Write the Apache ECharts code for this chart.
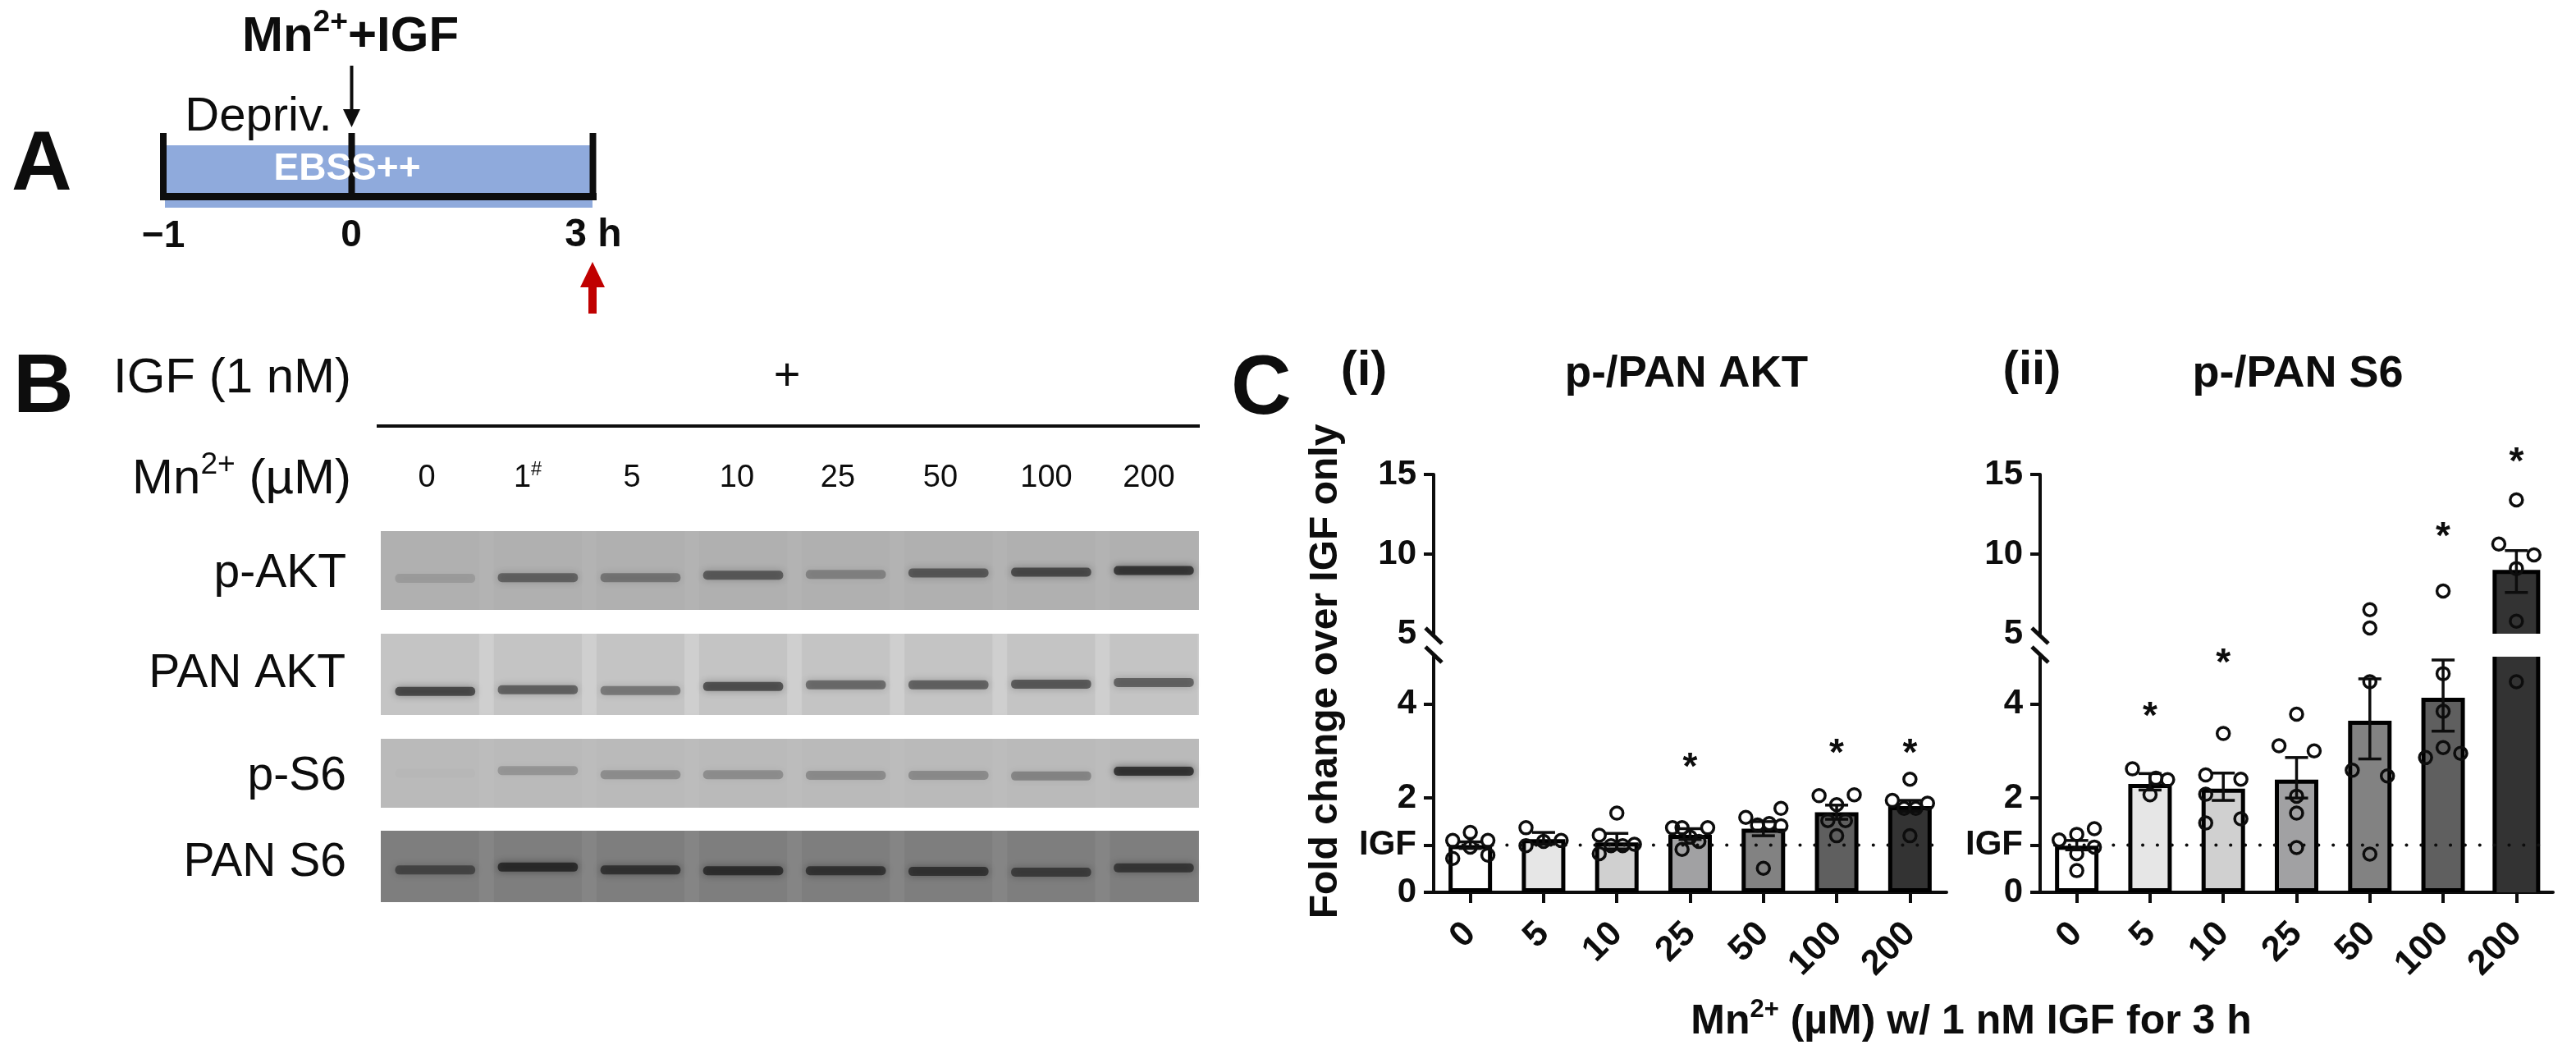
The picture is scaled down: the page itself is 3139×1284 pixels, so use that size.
<!DOCTYPE html>
<html>
<head>
<meta charset="utf-8">
<title>Mn2+ with IGF</title>
<script src="https://cdn.jsdelivr.net/npm/echarts@6/dist/echarts.min.js"></script>
<style>
  html, body { margin: 0; padding: 0; background: #fff; }
  #chart { width: 3139px; height: 1284px; }
</style>
</head>
<body>
<div id="chart"></div>
<script>
// panel C
const mnDoses = ['0', '5', '10', '25', '50', '100', '200'];
const yLowTicks = [0, 1, 2, 4];
const yHighLabels = [5, 10, 15];
const yHighTicks = [10, 15];
const igfLevel = 1;
const breakValue = 5;

const aktMeans = [1.0, 1.13, 1.06, 1.22, 1.35, 1.70, 1.83];
const aktErrLow = [0.93, 1.02, 0.92, 1.12, 1.20, 1.55, 1.72];
const aktErrHigh = [1.07, 1.27, 1.25, 1.35, 1.50, 1.85, 1.95];
// [jitter in category units, value]
const aktPoints = [
  [[-0.24, 1.10], [0, 1.27], [0.24, 1.10], [-0.24, 0.72], [0.24, 0.79], [0, 0.96]],
  [[-0.24, 1.37], [-0.24, 0.99], [0.24, 1.10], [0, 1.08]],
  [[0, 1.68], [-0.24, 1.21], [-0.24, 0.82], [0.24, 1.02], [-0.08, 0.99], [0.08, 0.99]],
  [[-0.24, 1.37], [-0.11, 1.37], [0.24, 1.37], [-0.11, 0.91], [0.12, 1.08], [0, 1.17]],
  [[-0.24, 1.59], [0.24, 1.78], [-0.08, 1.43], [0.08, 1.46], [0.24, 1.41], [0, 0.51]],
  [[-0.24, 2.05], [0.24, 2.07], [0, 1.86], [-0.12, 1.52], [0.12, 1.52], [0, 1.20]],
  [[-0.24, 1.95], [0, 2.40], [0.24, 1.89], [-0.08, 1.78], [0.08, 1.78], [0, 1.20]]
];
const aktStars = [[3, 2.79], [5, 3.08], [6, 3.08]];

const s6Means = [0.99, 2.30, 2.20, 2.39, 3.64, 4.13, 8.88];
const s6ErrLow = [0.90, 2.17, 1.95, 2.00, 2.83, 3.42, 7.59];
const s6ErrHigh = [1.10, 2.52, 2.53, 2.86, 4.53, 4.93, 10.22];
const s6Points = [
  [[-0.24, 1.11], [0, 1.23], [0.24, 1.35], [0.24, 0.96], [0, 0.82], [0, 0.46]],
  [[-0.24, 2.62], [0, 2.07], [0.24, 2.39], [0.08, 2.42]],
  [[-0.24, 2.49], [0.24, 2.40], [-0.24, 2.08], [-0.24, 1.47], [0.24, 1.56], [0, 3.37]],
  [[0, 3.78], [-0.24, 3.11], [0.24, 3.00], [0, 2.04], [0, 1.68], [0, 0.95]],
  [[0, 6.51], [0, 5.36], [0, 4.47], [-0.24, 2.59], [0.24, 2.47], [0, 0.81]],
  [[0, 7.68], [0, 4.64], [0, 3.84], [0, 3.07], [-0.24, 2.86], [0.24, 2.95]],
  [[0, 13.40], [-0.24, 10.63], [0.24, 9.95], [0, 9.09], [0, 5.79], [0, 4.47]]
];
// y of the stars is only a read-off position above the bars
const s6StarsLow = [[1, 3.87], [2, 5.0]];
const s6StarsHigh = [[5, 11.46], [6, 16.19]];

// panel B
const laneLabels = ['0', '1', '5', '10', '25', '50', '100', '200'];
const blotNames = ['p-AKT', 'PAN AKT', 'p-S6', 'PAN S6'];
const pAktBandY = [0.60, 0.59, 0.59, 0.56, 0.55, 0.53, 0.52, 0.50];
const pAktDark = [0.18, 0.62, 0.48, 0.68, 0.38, 0.70, 0.80, 0.95];
const panAktBandY = [0.71, 0.69, 0.70, 0.65, 0.63, 0.63, 0.62, 0.60];
const panAktDark = [0.85, 0.68, 0.52, 0.80, 0.62, 0.68, 0.74, 0.68];
const pS6BandY = [0.50, 0.46, 0.52, 0.52, 0.53, 0.53, 0.54, 0.47];
const pS6Dark = [0.02, 0.28, 0.34, 0.34, 0.36, 0.36, 0.40, 1.0];
const panS6BandY = [0.55, 0.51, 0.55, 0.56, 0.56, 0.57, 0.58, 0.52];
const panS6Dark = [0.65, 0.95, 0.85, 0.90, 0.85, 0.85, 0.75, 0.80];

const FONT = '"Liberation Sans", Arial, sans-serif';
const INK = '#0d0d0d';
const barGreys = ['#ffffff', '#e6e6e6', '#d0d0d0', '#a1a1a3', '#828282', '#5f5f5f', '#333333'];

let chartDom = document.getElementById('chart');
let myChart = echarts.init(chartDom);

const grid = [];
const xAxis = [];
const yAxis = [];
const series = [];

function renderError(params, api) {
  let x = api.value(0);
  let low = api.coord([x, api.value(1)]);
  let high = api.coord([x, api.value(2)]);
  const cap = 14;
  const style = { stroke: INK, lineWidth: 3.5, fill: null };
  return {
    type: 'group',
    children: [
      { type: 'line', shape: { x1: low[0], y1: low[1], x2: high[0], y2: high[1] }, style: style },
      { type: 'line', shape: { x1: low[0] - cap, y1: low[1], x2: low[0] + cap, y2: low[1] }, style: style },
      { type: 'line', shape: { x1: high[0] - cap, y1: high[1], x2: high[0] + cap, y2: high[1] }, style: style }
    ]
  };
}

// the bar crossing the axis break keeps no edge on the break side
function renderBrokenOutline(params, api) {
  let x = api.value(0);
  let bottom = api.coord([x, api.value(1)]);
  let top = api.coord([x, api.value(2)]);
  const half = 26.5;
  let style = { stroke: '#000', lineWidth: 5, fill: null };
  if (api.value(3)) {
    return {
      type: 'polyline',
      shape: { points: [[bottom[0] - half, bottom[1]], [bottom[0] - half, top[1]], [bottom[0] + half, top[1]], [bottom[0] + half, bottom[1]]] },
      style: style
    };
  }
  return {
    type: 'group',
    children: [
      { type: 'line', shape: { x1: bottom[0] - half, y1: bottom[1], x2: bottom[0] - half, y2: top[1] }, style: style },
      { type: 'line', shape: { x1: bottom[0] + half, y1: bottom[1], x2: bottom[0] + half, y2: top[1] }, style: style }
    ]
  };
}

function addPanel(left, means, errLow, errHigh, points, starsLow, starsHigh) {
  const base = grid.length;
  const lowIdx = base;
  const highIdx = base + 1;
  grid.push({ left: left, width: 625, top: 800, height: 287 });
  grid.push({ left: left, width: 625, top: 578, height: 194 });

  [lowIdx, highIdx].forEach(g => {
    let isLow = g === lowIdx;
    xAxis.push({
      type: 'category',
      gridIndex: g,
      data: mnDoses,
      show: isLow,
      axisLine: { onZero: false, lineStyle: { color: INK, width: 4 } },
      axisTick: { show: true, alignWithLabel: true, length: 13, lineStyle: { color: INK, width: 4 } },
      axisLabel: { rotate: 45, margin: 44, padding: [14, 0, 0, 0], color: INK, fontFamily: FONT, fontWeight: 'bold', fontSize: 43, interval: 0 }
    });
    xAxis.push({ type: 'value', gridIndex: g, min: -0.5, max: 6.5, show: false });
  });
  yAxis.push({
    type: 'value', gridIndex: lowIdx, min: 0, max: breakValue,
    splitLine: { show: false },
    axisLine: { show: true, onZero: false, lineStyle: { color: INK, width: 4 } },
    axisTick: { show: true, length: 12, customValues: yLowTicks, lineStyle: { color: INK, width: 4 } },
    axisLabel: {
      customValues: yLowTicks, margin: 21, color: INK, fontFamily: FONT, fontWeight: 'bold', fontSize: 42,
      formatter: v => (v === igfLevel ? 'IGF' : String(v))
    }
  });
  yAxis.push({
    type: 'value', gridIndex: highIdx, min: breakValue, max: 15,
    splitLine: { show: false },
    axisLine: { show: true, onZero: false, lineStyle: { color: INK, width: 4 } },
    axisTick: { show: true, length: 12, customValues: yHighTicks, lineStyle: { color: INK, width: 4 } },
    axisLabel: { customValues: yHighLabels, margin: 21, color: INK, fontFamily: FONT, fontWeight: 'bold', fontSize: 42 }
  });

  const xCat = g => g * 2;
  const xVal = g => g * 2 + 1;

  // bars
  series.push({
    type: 'bar', xAxisIndex: xCat(lowIdx), yAxisIndex: lowIdx, barWidth: 53, z: 2,
    data: means.map((v, i) => ({
      value: v,
      itemStyle: { color: barGreys[i], borderColor: '#000', borderWidth: v > breakValue ? 0 : 5 }
    }))
  });
  series.push({
    type: 'bar', xAxisIndex: xCat(highIdx), yAxisIndex: highIdx, barWidth: 53, z: 2,
    data: means.map((v, i) => (v > breakValue
      ? { value: v, itemStyle: { color: barGreys[i], borderWidth: 0 } }
      : null))
  });

  // outline of the broken bars
  const broken = means.map((v, i) => [i, v]).filter(d => d[1] > breakValue);
  series.push({
    type: 'custom', xAxisIndex: xCat(lowIdx), yAxisIndex: lowIdx, z: 3, clip: false,
    renderItem: renderBrokenOutline,
    data: broken.map(d => [d[0], 0, breakValue, 0])
  });
  series.push({
    type: 'custom', xAxisIndex: xCat(highIdx), yAxisIndex: highIdx, z: 3, clip: false,
    renderItem: renderBrokenOutline,
    data: broken.map(d => [d[0], breakValue, d[1], 1])
  });

  // IGF only level, one dot every fifth of a category
  series.push({
    type: 'line', xAxisIndex: xVal(lowIdx), yAxisIndex: lowIdx, z: 4, symbol: 'none', silent: true,
    lineStyle: { color: INK, width: 4, type: [0.1, 625 / 35 - 0.1], cap: 'round' },
    data: [[-0.5, igfLevel], [6.5, igfLevel]]
  });

  // error bars
  const errors = means.map((v, i) => [i, errLow[i], errHigh[i]]);
  series.push({
    type: 'custom', xAxisIndex: xCat(lowIdx), yAxisIndex: lowIdx, z: 5, clip: false,
    renderItem: renderError,
    data: errors.filter(d => d[2] <= breakValue)
  });
  series.push({
    type: 'custom', xAxisIndex: xCat(highIdx), yAxisIndex: highIdx, z: 5, clip: false,
    renderItem: renderError,
    data: errors.filter(d => d[1] >= breakValue)
  });

  // individual points
  const flat = [];
  points.forEach((group, i) => group.forEach(p => flat.push([i + p[0], p[1]])));
  const pointStyle = { color: 'transparent', borderColor: INK, borderWidth: 3.5, opacity: 1 };
  series.push({
    type: 'scatter', xAxisIndex: xVal(lowIdx), yAxisIndex: lowIdx, z: 6, symbolSize: 15, itemStyle: pointStyle,
    data: flat.filter(p => p[1] < breakValue)
  });
  series.push({
    type: 'scatter', xAxisIndex: xVal(highIdx), yAxisIndex: highIdx, z: 6, symbolSize: 15, itemStyle: pointStyle,
    data: flat.filter(p => p[1] >= breakValue)
  });

  // significance stars
  const starLabel = {
    show: true, formatter: '*', position: 'inside', offset: [0, 9],
    color: INK, fontFamily: FONT, fontWeight: 'bold', fontSize: 46
  };
  series.push({
    type: 'scatter', xAxisIndex: xCat(lowIdx), yAxisIndex: lowIdx, z: 7, clip: false, symbolSize: 1,
    itemStyle: { color: 'transparent', opacity: 1 }, label: starLabel, data: starsLow
  });
  series.push({
    type: 'scatter', xAxisIndex: xCat(highIdx), yAxisIndex: highIdx, z: 7, clip: false, symbolSize: 1,
    itemStyle: { color: 'transparent', opacity: 1 }, label: starLabel, data: starsHigh
  });
}

addPanel(1747, aktMeans, aktErrLow, aktErrHigh, aktPoints, aktStars, []);
addPanel(2486, s6Means, s6ErrLow, s6ErrHigh, s6Points, s6StarsLow, s6StarsHigh);

// western blot strips
function renderBand(params, api) {
  let lane = api.value(0);
  let c = api.coord([lane, api.value(1)]);
  let dark = api.value(2) * 0.7;
  let gap = api.coord([lane + 0.5, 0]);
  let bandW = api.size([1, 0])[0] * 0.78;
  const bandH = 11;
  let children = [];
  if (api.value(3) > 0) {
    children.push({
      type: 'rect',
      shape: { x: gap[0] - 9, y: params.coordSys.y, width: 18, height: params.coordSys.height },
      style: { fill: 'rgba(255,255,255,' + api.value(3) + ')', shadowBlur: 8, shadowColor: 'rgba(255,255,255,' + api.value(3) + ')' }
    });
  }
  children.push({
    type: 'rect',
    shape: { x: c[0] - bandW / 2, y: c[1] - bandH / 2, width: bandW, height: bandH, r: 5 },
    style: { fill: 'rgba(15,15,15,' + dark + ')', shadowBlur: 10, shadowColor: 'rgba(15,15,15,' + dark + ')' }
  });
  return { type: 'group', children: children };
}

const blots = [
  { top: 647, height: 96, bg: '#b0b0b0', y: pAktBandY, dark: pAktDark, gap: 0.04 },
  { top: 772, height: 99, bg: '#c4c4c4', y: panAktBandY, dark: panAktDark, gap: 0.18 },
  { top: 900, height: 84, bg: '#bababa', y: pS6BandY, dark: pS6Dark, gap: 0.04 },
  { top: 1012, height: 87, bg: '#7e7e7e', y: panS6BandY, dark: panS6Dark, gap: 0.06 }
];
blots.forEach(b => {
  let g = grid.length;
  grid.push({ show: true, left: 464, width: 997, top: b.top, height: b.height, backgroundColor: b.bg, borderWidth: 0 });
  xAxis.push({ type: 'value', gridIndex: g, min: -0.53, max: 7.44, show: false });
  yAxis.push({ type: 'value', gridIndex: g, min: 0, max: 1, inverse: true, show: false });
  series.push({
    type: 'custom', xAxisIndex: xAxis.length - 1, yAxisIndex: yAxis.length - 1, z: 2,
    renderItem: renderBand,
    data: b.y.map((v, i) => [i, v, b.dark[i], b.gap])
  });
});

// texts and the timeline of panel A
function label(text, x, y, size, opts) {
  opts = opts || {};
  return {
    type: 'text', x: x, y: y, rotation: opts.rotation || 0, z: 20,
    style: {
      text: text, fill: opts.fill || INK,
      font: (opts.weight || 'normal') + ' ' + size + 'px ' + FONT,
      textAlign: opts.align || 'center', textVerticalAlign: 'middle',
      align: opts.align || 'center', verticalAlign: 'middle',
      rich: opts.rich
    }
  };
}
function supRich(size, weight) {
  return {
    m: { fontFamily: FONT, fontSize: size, fontWeight: weight, fill: INK, color: INK, lineHeight: size * 1.2 },
    s: { fontFamily: FONT, fontSize: size * 0.62, fontWeight: weight, color: INK, verticalAlign: 'top', lineHeight: size * 1.2 * 0.72 }
  };
}
function seg(x1, y1, x2, y2, width, color) {
  return { type: 'line', z: 15, shape: { x1: x1, y1: y1, x2: x2, y2: y2 }, style: { stroke: color || INK, lineWidth: width } };
}
function rect(x, y, w, h, fill) {
  return { type: 'rect', z: 14, shape: { x: x, y: y, width: w, height: h }, style: { fill: fill } };
}
function poly(points, fill) {
  return { type: 'polygon', z: 15, shape: { points: points }, style: { fill: fill } };
}

const graphic = [
  label('A', 14, 203, 102, { weight: 'bold', align: 'left' }),
  label('B', 16, 474, 102, { weight: 'bold', align: 'left' }),
  label('C', 1500, 476, 102, { weight: 'bold', align: 'left' }),

  label('{m|Mn}{s|2+}{m|+IGF}', 427, 45, 60, { rich: supRich(60, 'bold') }),
  seg(428.5, 80, 428.5, 140, 4),
  poly([[418, 133], [439, 133], [428.5, 155]], INK),
  label('Depriv.', 315, 143, 58),
  rect(201, 177, 521, 76, '#8faadc'),
  seg(199, 162, 199, 244, 8),
  seg(428.5, 162, 428.5, 244, 8),
  seg(722.5, 162, 722.5, 244, 8),
  seg(195, 239.5, 727, 239.5, 9),
  label('EBSS++', 423, 206, 46, { weight: 'bold', fill: '#fff' }),
  label('\u22121', 199, 288, 46, { weight: 'bold' }),
  label('0', 428, 287, 46, { weight: 'bold' }),
  label('3 h', 723, 287, 48, { weight: 'bold' }),
  poly([[722, 319], [737, 350], [727, 350], [727, 382], [717, 382], [717, 350], [707, 350]], '#c00000'),

  label('IGF (1 nM)', 428, 461, 60, { align: 'right' }),
  seg(459, 519, 1462, 519, 4),
  label('+', 959, 460, 56),
  label('{m|Mn}{s|2+}{m| (\u00b5M)}', 428, 584, 60, { align: 'right', rich: supRich(60, 'normal') }),
  label(blotNames[0], 422, 699, 57, { align: 'right' }),
  label(blotNames[1], 421, 821, 57, { align: 'right' }),
  label(blotNames[2], 422, 946, 57, { align: 'right' }),
  label(blotNames[3], 422, 1051, 57, { align: 'right' }),

  label('(i)', 1662, 452, 60, { weight: 'bold' }),
  label('p-/PAN AKT', 2055, 456, 53, { weight: 'bold' }),
  label('(ii)', 2476, 452, 58, { weight: 'bold' }),
  label('p-/PAN S6', 2800, 456, 54, { weight: 'bold' }),
  label('Fold change over IGF only', 1616, 818, 48, { weight: 'bold', rotation: Math.PI / 2 }),
  label('{m|Mn}{s|2+}{m| (\u00b5M) w/ 1 nM IGF for 3 h}', 2402, 1245, 50, { rich: supRich(50, 'bold') }),

  // white gap between the axis pieces
  rect(1740, 776, 14, 22, '#fff'), rect(2479, 776, 14, 22, '#fff'),
  // axis break slashes
  seg(1737, 765, 1757, 784, 5), seg(1737, 788, 1757, 807, 5),
  seg(2476, 765, 2496, 784, 5), seg(2476, 788, 2496, 807, 5)
];
// lane numbers, the second one carries a small #
const laneCentres = [520, 643, 770, 898, 1021, 1146, 1275, 1400];
laneLabels.forEach((t, i) => {
  let text = t === '1' ? '{m|1}{s|#}' : t;
  graphic.push(label(text, laneCentres[i], 583, 38, { rich: t === '1' ? supRich(38, 'normal') : undefined }));
});

let option = {
  animation: false,
  backgroundColor: '#fff',
  grid: grid,
  xAxis: xAxis,
  yAxis: yAxis,
  series: series,
  graphic: graphic
};
option && myChart.setOption(option);
</script>
</body>
</html>
